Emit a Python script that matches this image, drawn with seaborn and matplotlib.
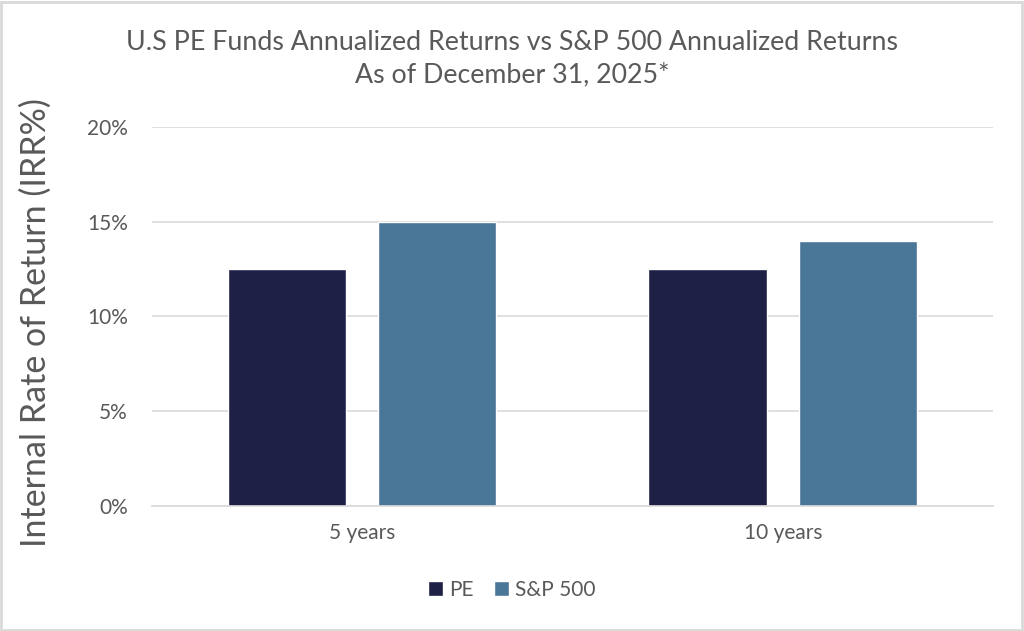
import matplotlib
matplotlib.use('Agg')
import matplotlib.pyplot as plt
import seaborn as sns
import pandas as pd
from matplotlib.patches import Rectangle
from matplotlib.ticker import FuncFormatter

periods = ['5 years', '10 years']
series = ['PE', 'S&P 500']
pe_returns = [12.5, 12.5]
sp500_returns = [15.0, 14.0]
colors = ['#1F2046', '#4A7698']

df = pd.DataFrame({
    'period': periods * 2,
    'series': [series[0]] * 2 + [series[1]] * 2,
    'irr': pe_returns + sp500_returns,
})

sns.set_theme(style='white')
plt.rcParams['font.family'] = ['Lato', 'DejaVu Sans']
txt = '#595959'

fig = plt.figure(figsize=(10.24, 6.31), dpi=100)
ax = fig.add_axes([0.148, 0.198, 0.822, 0.601])

sns.barplot(data=df, x='period', y='irr', hue='series', palette=colors,
            saturation=1, width=0.716, gap=0.216, ax=ax, legend=True)

ax.set_xlim(-0.5, 1.5)
ax.set_ylim(0, 20)
ax.set_yticks([0, 5, 10, 15, 20])
ax.yaxis.set_major_formatter(FuncFormatter(lambda v, p: f'{v:.0f}%'))
ax.grid(axis='y', color='#D9D9D9', linewidth=1.2)
ax.set_axisbelow(True)
for s in ['top', 'right', 'left']:
    ax.spines[s].set_visible(False)
ax.spines['bottom'].set_color('#D9D9D9')
ax.spines['bottom'].set_linewidth(1.2)
ax.tick_params(axis='both', length=0, labelsize=15, labelcolor=txt)
ax.tick_params(axis='y', pad=17)
ax.tick_params(axis='x', pad=12)
ax.set_xlabel('')
ax.set_ylabel('Internal Rate of Return (IRR%)', fontsize=24.5, color=txt)
ax.yaxis.set_label_coords(-0.118, 0.485)

fig.text(0.5, 0.933, 'U.S PE Funds Annualized Returns vs S&P 500 Annualized Returns',
         ha='center', va='center', fontsize=19.3, color=txt)
fig.text(0.5, 0.881, 'As of December 31, 2025*',
         ha='center', va='center', fontsize=19.3, color=txt)

handles, labels = ax.get_legend_handles_labels()
ax.legend(handles, labels, loc='center', bbox_to_anchor=(0.5, 0.065),
          bbox_transform=fig.transFigure, ncol=2, frameon=False,
          fontsize=15, labelcolor=txt, handlelength=0.7, handleheight=0.7,
          handletextpad=0.3, columnspacing=1.0)

fig.patches.append(Rectangle((0.001, 0.002), 0.997, 0.995, transform=fig.transFigure,
                             fill=False, edgecolor='#D9D9D9', linewidth=2))

fig.savefig('out.png', dpi=100)
